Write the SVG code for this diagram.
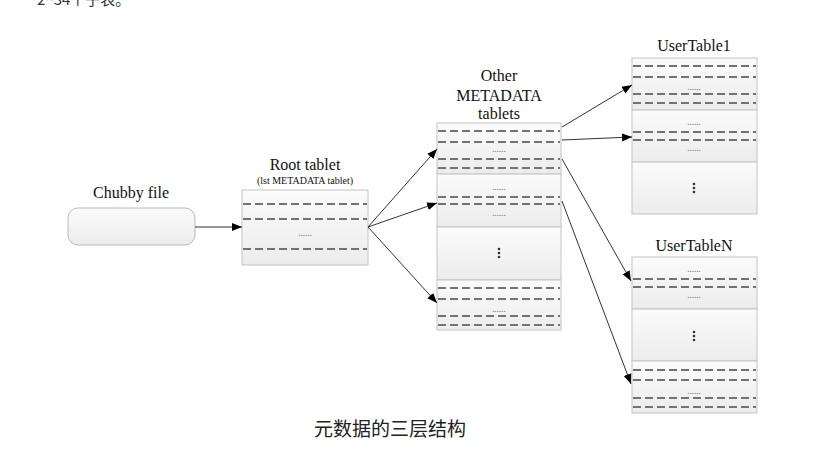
<svg xmlns="http://www.w3.org/2000/svg" width="824" height="456" viewBox="0 0 824 456">
<style>
.lbl{font-family:"Liberation Serif","Times New Roman",serif;font-size:16px;fill:#111;text-anchor:middle}
.sub{font-family:"Liberation Serif","Times New Roman",serif;font-size:10px;fill:#111;text-anchor:middle}
.seg{fill:url(#g);stroke:#c4c4c4;stroke-width:1}
.dash{stroke:#727272;stroke-width:2;stroke-dasharray:8 4;fill:none}
.dots{font-family:"Liberation Sans",Arial,sans-serif;font-size:8px;font-weight:bold;fill:#8a8a8a;text-anchor:middle}
.vd{fill:#333}
.conn{stroke:#333;stroke-width:1;fill:none;marker-end:url(#ah)}
</style>
<defs>
<linearGradient id="g" x1="0" y1="0" x2="0" y2="1">
<stop offset="0" stop-color="#fbfbfb"/>
<stop offset="1" stop-color="#ececec"/>
</linearGradient>
<marker id="ah" viewBox="0 0 10 10" refX="10" refY="5" markerWidth="10" markerHeight="10" markerUnits="userSpaceOnUse" orient="auto">
<path d="M0,1 L10,5 L0,9 z" fill="#000"/>
</marker>
<g id="vdots"><circle class="vd" cx="0" cy="-4" r="1.3"/><circle class="vd" cx="0" cy="0" r="1.3"/><circle class="vd" cx="0" cy="4" r="1.3"/></g>
</defs>
<rect width="824" height="456" fill="#fff"/>
<text x="37" y="5" font-family="'Noto Sans CJK SC','Liberation Sans',sans-serif" font-size="15" fill="#333">2^34个子表。</text>

<g id="chubby">
<text class="lbl" x="131" y="198">Chubby file</text>
<rect x="68" y="208" width="127" height="37" rx="10" ry="10" fill="url(#g)" stroke="#bbb"/>
</g>

<g id="root">
<text class="lbl" x="305" y="170">Root tablet</text>
<text class="sub" x="305" y="184">(lst METADATA tablet)</text>
<rect class="seg" x="242" y="190" width="126" height="75"/>
<line class="dash" x1="243" y1="204" x2="367" y2="204"/>
<line class="dash" x1="243" y1="219" x2="367" y2="219"/>
<text class="dots" x="305" y="236">......</text>
<line class="dash" x1="243" y1="249" x2="367" y2="249"/>
</g>

<g id="meta">
<text class="lbl" x="499" y="81">Other</text>
<text class="lbl" x="499" y="101">METADATA</text>
<text class="lbl" x="499" y="119">tablets</text>
<rect class="seg" x="437" y="123" width="124" height="51"/>
<line class="dash" x1="438" y1="131" x2="560" y2="131"/>
<line class="dash" x1="438" y1="142" x2="560" y2="142"/>
<text class="dots" x="499" y="152">......</text>
<line class="dash" x1="438" y1="159" x2="560" y2="159"/>
<line class="dash" x1="438" y1="168" x2="560" y2="168"/>
<rect class="seg" x="437" y="174" width="124" height="53"/>
<text class="dots" x="499" y="190">......</text>
<line class="dash" x1="438" y1="197" x2="560" y2="197"/>
<line class="dash" x1="438" y1="204" x2="560" y2="204"/>
<text class="dots" x="499" y="216">......</text>
<rect class="seg" x="437" y="227" width="124" height="53"/>
<use href="#vdots" x="499" y="253"/>
<rect class="seg" x="437" y="280" width="124" height="50"/>
<line class="dash" x1="438" y1="288" x2="560" y2="288"/>
<line class="dash" x1="438" y1="299" x2="560" y2="299"/>
<text class="dots" x="499" y="312">......</text>
<line class="dash" x1="438" y1="316" x2="560" y2="316"/>
<line class="dash" x1="438" y1="325" x2="560" y2="325"/>
</g>

<g id="usertable1">
<text class="lbl" x="694" y="51">UserTable1</text>
<rect class="seg" x="632" y="58" width="125" height="52"/>
<line class="dash" x1="633" y1="66" x2="756" y2="66"/>
<line class="dash" x1="633" y1="77" x2="756" y2="77"/>
<text class="dots" x="694" y="90">......</text>
<line class="dash" x1="633" y1="94" x2="756" y2="94"/>
<line class="dash" x1="633" y1="103" x2="756" y2="103"/>
<rect class="seg" x="632" y="110" width="125" height="52"/>
<text class="dots" x="694" y="125">......</text>
<line class="dash" x1="633" y1="132" x2="756" y2="132"/>
<line class="dash" x1="633" y1="140" x2="756" y2="140"/>
<text class="dots" x="694" y="151">......</text>
<rect class="seg" x="632" y="162" width="125" height="52"/>
<use href="#vdots" x="694" y="188"/>
</g>

<g id="usertableN">
<text class="lbl" x="694" y="251">UserTableN</text>
<rect class="seg" x="632" y="257" width="125" height="52"/>
<text class="dots" x="694" y="272">......</text>
<line class="dash" x1="633" y1="279" x2="756" y2="279"/>
<line class="dash" x1="633" y1="287" x2="756" y2="287"/>
<text class="dots" x="694" y="298">......</text>
<rect class="seg" x="632" y="309" width="125" height="52"/>
<use href="#vdots" x="694" y="336"/>
<rect class="seg" x="632" y="361" width="125" height="52"/>
<line class="dash" x1="633" y1="370" x2="756" y2="370"/>
<line class="dash" x1="633" y1="380" x2="756" y2="380"/>
<text class="dots" x="694" y="394">......</text>
<line class="dash" x1="633" y1="398" x2="756" y2="398"/>
<line class="dash" x1="633" y1="407" x2="756" y2="407"/>
</g>

<g id="connectors">
<line class="conn" x1="195" y1="227" x2="242" y2="227"/>
<line class="conn" x1="368" y1="227" x2="437" y2="149"/>
<line class="conn" x1="368" y1="227" x2="437" y2="203"/>
<line class="conn" x1="368" y1="227" x2="437" y2="303"/>
<line class="conn" x1="562" y1="127" x2="632" y2="85"/>
<line class="conn" x1="562" y1="140" x2="632" y2="137"/>
<line class="conn" x1="562" y1="159" x2="631" y2="281"/>
<line class="conn" x1="562" y1="201" x2="631" y2="384"/>
</g>

<text x="390" y="436" font-family="'Noto Sans CJK SC','Liberation Sans',sans-serif" font-size="19" fill="#222" text-anchor="middle">元数据的三层结构</text>
</svg>
